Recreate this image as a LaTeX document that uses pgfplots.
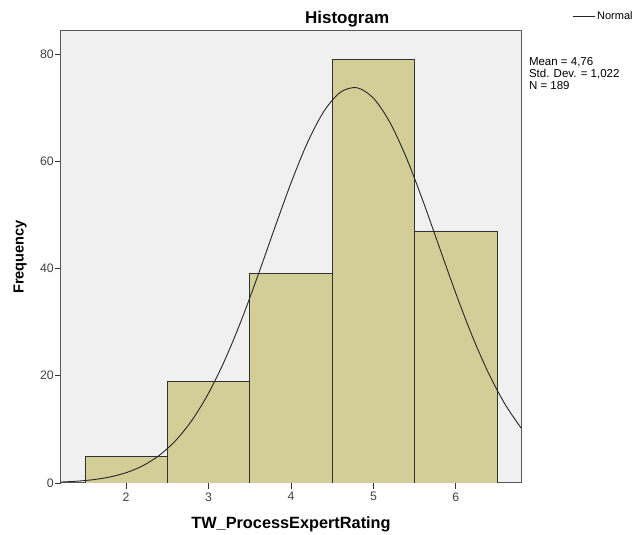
\documentclass[border=0pt]{standalone}
\usepackage{pgfplots}
\pgfplotsset{compat=1.18}
\usepackage{fontspec}
\setmainfont{Liberation Sans}

\definecolor{plotbg}{RGB}{240,240,240}
\definecolor{barfill}{RGB}{211,206,151}
\definecolor{edge}{RGB}{50,50,50}
\definecolor{ticktext}{RGB}{64,64,64}

\begin{document}
\begin{tikzpicture}
\path[use as bounding box] (-61pt,-52pt) rectangle (571pt,483pt);
\begin{axis}[
    at={(0,0)}, anchor=south west,
    scale only axis,
    width=460pt, height=452pt,
    xmin=1.21, xmax=6.79,
    ymin=0, ymax=84.3,
    xtick={2,3,4,5,6},
    ytick={0,20,40,60,80},
    tick align=outside,
    tick pos=left,
    major tick length=6pt,
    tick style={draw=edge, line width=0.8pt},
    axis background/.style={fill=plotbg},
    axis line style={draw=gray!70!black, line width=1pt},
    tick label style={font=\fontsize{12.3}{14}\selectfont, text=ticktext},
    yticklabel style={inner xsep=1pt},
    /pgf/number format/assume math mode=true,
    title={\bfseries Histogram},
    title style={at={(0.622,1.003)}, anchor=base, font=\fontsize{17}{19}\selectfont},
    xlabel={\bfseries TW\_ProcessExpertRating},
    xlabel style={at={(axis description cs:0.5,-0.0907)}, anchor=center, font=\fontsize{16.3}{18}\selectfont},
    ylabel={\bfseries Frequency},
    ylabel style={at={(axis description cs:-0.089,0.5)}, anchor=center, font=\fontsize{14.6}{16}\selectfont},
    legend style={at={(1.111,1.033)}, anchor=west, draw=none, fill=none,
        font=\fontsize{11}{12}\selectfont, inner sep=0pt},
    legend image code/.code={\draw[#1] (0pt,0pt) -- (22pt,0pt);},
    clip mode=individual,
]
\addplot[ybar interval, fill=barfill, draw=edge, line width=0.8pt, forget plot]
    coordinates {(1.5,5) (2.5,19) (3.5,39) (4.5,79) (5.5,47) (6.5,47)};
\addplot[black!85, line width=0.9pt, smooth]
    coordinates {
    (1.2,0.171) (1.4,0.332) (1.6,0.619) (1.8,1.113) (2.0,1.924)
    (2.2,3.202) (2.4,5.129) (2.6,7.909) (2.8,11.730) (3.0,16.749)
    (3.2,23.015) (3.4,30.438) (3.6,38.743) (3.8,47.463) (4.0,55.957)
    (4.2,63.495) (4.4,69.342) (4.6,72.881) (4.8,73.72)
    (5.0,71.773) (5.2,67.250) (5.4,60.644) (5.6,52.631) (5.8,43.963)
    (6.0,35.341) (6.2,27.344) (6.4,20.360) (6.6,14.592) (6.8,10.064)
    };
\addlegendentry{Normal}
\node[anchor=north west, align=left, inner sep=0pt,
      font=\fontsize{11.5}{12}\selectfont]
    at (rel axis cs:1.017,0.9425)
    {Mean = 4,76\\Std. Dev. = 1,022\\N = 189};
\end{axis}
\end{tikzpicture}
\end{document}
